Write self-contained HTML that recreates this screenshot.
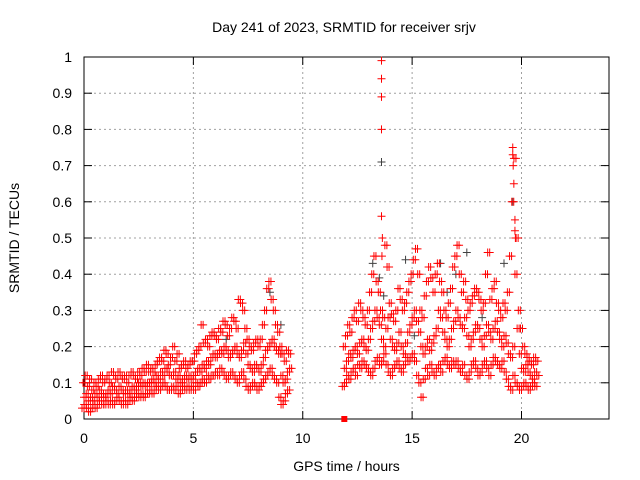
<!DOCTYPE html>
<html><head><meta charset="utf-8"><style>
body{margin:0;background:#fff}
svg{display:block;font-family:"Liberation Sans",sans-serif}
</style></head><body>
<svg id="c" width="640" height="480"></svg>
<script>
const xTicks=[0,5,10,15,20];
const yTicks=[0,0.1,0.2,0.3,0.4,0.5,0.6,0.7,0.8,0.9,1];
const yTickLabels=["0","0.1","0.2","0.3","0.4","0.5","0.6","0.7","0.8","0.9","1"];
const hoursA=[0.0,0.1,0.2,0.3,0.4,0.5,0.6,0.7,0.8,0.9,1.0,1.1,1.2,1.3,1.4,1.5,1.6,1.7,1.8,1.9,2.0,2.1,2.2,2.3,2.4,2.5,2.6,2.7,2.8,2.9,3.0,3.1,3.2,3.3,3.4,3.5,3.6,3.7,3.8,3.9,4.0,4.1,4.2,4.3,4.4,4.5,4.6,4.7,4.8,4.9,5.0,5.1,5.2,5.3,5.4,5.5,5.6,5.7,5.8,5.9,6.0,6.1,6.2,6.3,6.4,6.5,6.6,6.7,6.8,6.9,7.0,7.1,7.2,7.3,7.4,7.5,7.6,7.7,7.8,7.9,8.0,8.1,8.2,8.3,8.4,8.5,8.6,8.7,8.8,8.9,9.0,9.1,9.2,9.3,9.4];
const lowA=[.03,.04,.03,.02,.03,.04,.03,.04,.05,.04,.04,.05,.04,.05,.04,.05,.06,.05,.04,.05,.04,.05,.06,.05,.06,.07,.06,.07,.06,.07,.07,.08,.07,.08,.09,.08,.09,.10,.09,.08,.08,.09,.08,.09,.07,.08,.09,.08,.09,.08,.09,.08,.10,.09,.10,.11,.10,.12,.11,.12,.12,.13,.12,.14,.13,.12,.11,.12,.13,.12,.11,.10,.12,.13,.11,.09,.08,.09,.10,.09,.08,.09,.10,.11,.12,.13,.14,.12,.11,.10,.06,.04,.05,.07,.08];
const midA=[.06,.07,.05,.06,.05,.07,.06,.08,.07,.06,.07,.08,.07,.09,.08,.07,.09,.08,.07,.08,.07,.08,.09,.08,.09,.10,.09,.10,.09,.10,.10,.11,.10,.12,.11,.13,.12,.14,.13,.12,.12,.13,.11,.12,.10,.11,.12,.11,.12,.11,.12,.13,.14,.13,.15,.14,.16,.15,.17,.18,.17,.18,.19,.18,.20,.19,.17,.18,.19,.20,.18,.17,.19,.21,.18,.15,.14,.13,.15,.14,.13,.15,.17,.19,.20,.21,.22,.20,.19,.18,.12,.10,.11,.13,.14];
const highA=[.10,.12,.09,.11,.08,.10,.09,.11,.12,.10,.11,.12,.10,.13,.12,.11,.13,.12,.11,.12,.10,.12,.13,.12,.11,.13,.12,.14,.13,.15,.13,.14,.13,.15,.16,.17,.16,.19,.18,.15,.17,.20,.16,.18,.14,.15,.16,.14,.15,.16,.16,.18,.19,.20,.26,.21,.22,.20,.23,.24,.23,.22,.25,.24,.27,.26,.23,.25,.28,.27,.25,.33,.32,.30,.25,.22,.20,.19,.21,.22,.20,.22,.26,.30,.36,.38,.33,.30,.26,.24,.20,.18,.16,.19,.18];
const hoursB=[11.9,12.0,12.1,12.2,12.3,12.4,12.5,12.6,12.7,12.8,12.9,13.0,13.1,13.2,13.3,13.4,13.5,13.6,13.7,13.8,13.9,14.0,14.1,14.2,14.3,14.4,14.5,14.6,14.7,14.8,14.9,15.0,15.1,15.2,15.3,15.4,15.5,15.6,15.7,15.8,15.9,16.0,16.1,16.2,16.3,16.4,16.5,16.6,16.7,16.8,16.9,17.0,17.1,17.2,17.3,17.4,17.5,17.6,17.7,17.8,17.9,18.0,18.1,18.2,18.3,18.4,18.5,18.6,18.7,18.8,18.9,19.0,19.1,19.2,19.3,19.4,19.5,19.6,19.7,19.8,19.9,20.0,20.1,20.2,20.3,20.4,20.5,20.6,20.7];
const lowB=[.09,.10,.12,.11,.13,.14,.12,.15,.14,.16,.15,.14,.13,.12,.14,.16,.17,.15,.16,.18,.15,.13,.12,.14,.15,.16,.14,.13,.15,.17,.16,.17,.18,.16,.12,.10,.06,.11,.14,.12,.15,.13,.12,.14,.15,.13,.16,.17,.15,.14,.16,.15,.16,.14,.13,.15,.12,.11,.13,.15,.16,.14,.12,.13,.15,.16,.14,.12,.15,.17,.16,.15,.14,.16,.13,.11,.09,.08,.12,.10,.09,.08,.09,.10,.09,.08,.09,.10,.09];
const midB=[.14,.16,.18,.17,.19,.20,.18,.21,.22,.20,.19,.22,.25,.27,.30,.28,.26,.22,.20,.25,.28,.22,.20,.19,.21,.24,.20,.18,.21,.24,.26,.28,.30,.27,.24,.20,.18,.20,.22,.19,.21,.23,.25,.30,.28,.24,.22,.20,.22,.25,.27,.30,.28,.26,.25,.28,.23,.20,.22,.24,.26,.25,.22,.20,.23,.26,.24,.22,.25,.27,.24,.22,.20,.23,.21,.18,.17,.20,.40,.25,.18,.14,.13,.15,.13,.12,.11,.13,.12];
const highB=[.20,.23,.26,.24,.28,.30,.27,.32,.30,.28,.26,.30,.35,.40,.45,.38,.35,.30,.28,.48,.42,.32,.29,.27,.30,.36,.33,.30,.32,.35,.38,.40,.44,.47,.40,.30,.28,.34,.38,.42,.39,.35,.40,.43,.38,.35,.30,.28,.32,.36,.42,.45,.48,.40,.35,.38,.33,.30,.32,.34,.36,.35,.33,.30,.32,.40,.46,.33,.36,.38,.32,.30,.28,.32,.30,.35,.45,.60,.72,.50,.30,.25,.20,.18,.17,.16,.15,.17,.16];
const spikeHours=[13.6,13.6,13.6,13.6,13.6,13.62,13.64,19.6,19.6,19.62,19.65,19.7,19.7,19.72];
const spikeVals=[.99,.94,.89,.80,.56,.45,.50,.75,.73,.70,.65,.55,.52,.50];
const grayHours=[13.6,13.2,13.5,14.7,16.3,16.6,17.5,19.2,19.6,15.1,18.2,6.5,8.5,9.0,13.7,17.0];
const grayVals=[.71,.43,.39,.44,.43,.35,.46,.43,.60,.23,.28,.22,.35,.26,.34,.40];
const gapHours=[11.9];
const gapVals=[0];

const L=84,R=609,T=57,B=419;
const xs=h=>L+(h/24)*(R-L);
const ys=v=>B-v*(B-T);
const svg=document.getElementById('c');
const NS="http://www.w3.org/2000/svg";
function mk(t,a){const e=document.createElementNS(NS,t);for(const k in a)e.setAttribute(k,a[k]);svg.appendChild(e);return e;}

const title=mk('text',{x:344,y:32,'text-anchor':'middle','font-size':14});
title.textContent="Day 241 of 2023, SRMTID for receiver srjv";



yTicks.forEach((v,i)=>{
  const y=ys(v);
  if(i>0&&i<yTicks.length-1){const g=mk('line',{x1:L,x2:R,y1:y,y2:y,stroke:'#a0a0a0','stroke-dasharray':'2,3','stroke-width':1});
  
  }
  mk('line',{x1:L,x2:L+8,y1:y,y2:y,stroke:'#000'});
  mk('line',{x1:R,x2:R-8,y1:y,y2:y,stroke:'#000'});
  const t=mk('text',{x:L-12,y:y+5,'text-anchor':'end','font-size':14});
  t.textContent=yTickLabels[i];
  
  
});
xTicks.forEach(h=>{
  const x=xs(h);
  if(h>0){const g=mk('line',{x1:x,x2:x,y1:T,y2:B,stroke:'#a0a0a0','stroke-dasharray':'2,3','stroke-width':1});
  
  }
  mk('line',{x1:x,x2:x,y1:B,y2:B-8,stroke:'#000'});
  mk('line',{x1:x,x2:x,y1:T,y2:T+8,stroke:'#000'});
  const t=mk('text',{x:x,y:B+24,'text-anchor':'middle','font-size':14});
  t.textContent=String(h);
  
  
});
const fr=mk('rect',{x:L,y:T,width:R-L,height:B-T,fill:'none',stroke:'#000'});



const yl=mk('text',{x:0,y:0,'text-anchor':'middle','font-size':14,transform:`translate(19,${(T+B)/2}) rotate(-90)`});
yl.textContent="SRMTID / TECUs";


const xl=mk('text',{x:(L+R)/2,y:471,'text-anchor':'middle','font-size':14});
xl.textContent="GPS time / hours";



function plus(h,v,color,dx){
  const x=xs(h)+dx,y=ys(v);
  const p=mk('path',{d:`M${x-4},${y}h8M${x},${y-4}v8`,stroke:color,'stroke-width':1,fill:'none'});
  
  
}
function series(hours,vals,color,dx){hours.forEach((h,i)=>plus(h,vals[i],color,dx));}
series(grayHours,grayVals,'#404040',0);
[-1,1].forEach(o=>{
series(hoursA,lowA,'#ff0000',-1+o);
series(hoursA,midA,'#ff0000',1-o);
series(hoursA,highA,'#ff0000',o);
series(hoursB,lowB,'#ff0000',-1+o);
series(hoursB,midB,'#ff0000',1-o);
series(hoursB,highB,'#ff0000',o);
});
series(spikeHours,spikeVals,'#ff0000',0);
gapHours.forEach((h,i)=>{
  const s=mk('rect',{x:xs(h)-3,y:ys(gapVals[i])-3,width:6,height:6,fill:'#ff0000'});
  
  
});
</script>
</body></html>
